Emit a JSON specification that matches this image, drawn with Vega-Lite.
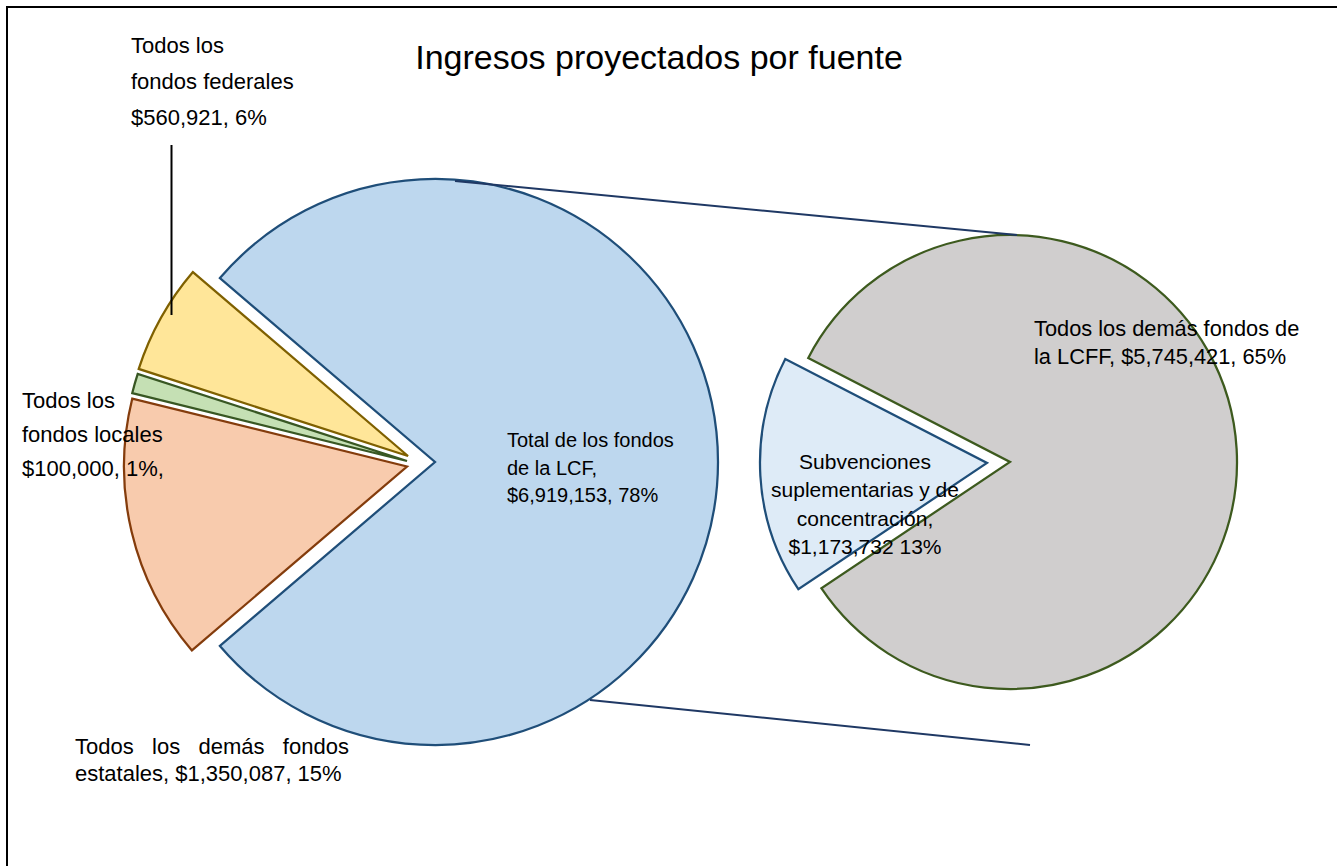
{
  "$schema": "https://vega.github.io/schema/vega-lite/v6.json",
  "width": 1332,
  "height": 861,
  "autosize": {"type": "none"},
  "padding": {"left": 7, "top": 7, "right": 0, "bottom": 0},
  "background": "white",
  "config": {"view": {"stroke": "black", "strokeWidth": 2}, "font": "Liberation Sans"},
  "title": {"text": "Ingresos proyectados por fuente", "fontSize": 34, "font": "Liberation Sans", "fontWeight": "normal", "color": "black", "anchor": "middle", "offset": -69, "dx": -14},
  "data": {"values": [
    {"grafico": "Fuente", "fuente": "Total de los fondos de la LCF", "monto": 6919153, "orden": 1, "etiqueta": "Total de los fondos\nde la LCF,\n$6,919,153, 78%"},
    {"grafico": "Fuente", "fuente": "Todos los demás fondos estatales", "monto": 1350087, "orden": 2, "etiqueta": "Todos\u00a0\u00a0\u00a0los\u00a0\u00a0\u00a0demás\u00a0\u00a0\u00a0fondos\nestatales, $1,350,087, 15%"},
    {"grafico": "Fuente", "fuente": "Todos los fondos locales", "monto": 100000, "orden": 3, "etiqueta": "Todos los\nfondos locales\n$100,000, 1%,"},
    {"grafico": "Fuente", "fuente": "Todos los fondos federales", "monto": 560921, "orden": 4, "etiqueta": "Todos los\nfondos federales\n$560,921, 6%"},
    {"grafico": "LCF", "fuente": "Todos los demás fondos de la LCFF", "monto": 5745421, "orden": 1, "etiqueta": "Todos los demás fondos de\nla LCFF, $5,745,421, 65%"},
    {"grafico": "LCF", "fuente": "Subvenciones suplementarias y de concentración", "monto": 1173732, "orden": 2, "etiqueta": "Subvenciones\nsuplementarias y de\nconcentración,\n$1,173,732 13%"}
  ]},
  "transform": [
    {"stack": "monto", "groupby": ["grafico"], "sort": [{"field": "orden", "order": "ascending"}], "offset": "normalize", "as": ["inicio", "fin"]}
  ],
  "encoding": {
    "x": {"field": "grafico", "type": "nominal", "axis": null, "scale": {"type": "point", "domain": ["Fuente", "LCF"], "range": [428, 1003], "padding": 0}},
    "y": {"field": "grafico", "type": "nominal", "axis": null, "scale": {"type": "point", "domain": ["Fuente", "LCF"], "range": [455, 455], "padding": 0}}
  },
  "resolve": {"scale": {"theta": "independent"}},
  "layer": [
    {
      "transform": [{"filter": "datum.grafico === 'Fuente'"}],
      "encoding": {
        "theta": {"field": "inicio", "type": "quantitative", "stack": null, "scale": {"domain": [0, 1], "range": [-0.86333, 5.41985]}},
        "theta2": {"field": "fin"},
        "fill": {"field": "fuente", "type": "nominal", "legend": null, "scale": {"domain": ["Total de los fondos de la LCF", "Todos los demás fondos estatales", "Todos los fondos locales", "Todos los fondos federales", "Todos los demás fondos de la LCFF", "Subvenciones suplementarias y de concentración"], "range": ["#BDD7EE", "#F8CBAD", "#C5E0B4", "#FFE699", "#D0CECE", "#DEEBF7"]}},
        "stroke": {"field": "fuente", "type": "nominal", "legend": null, "scale": {"domain": ["Total de los fondos de la LCF", "Todos los demás fondos estatales", "Todos los fondos locales", "Todos los fondos federales", "Todos los demás fondos de la LCFF", "Subvenciones suplementarias y de concentración"], "range": ["#1F4E79", "#843C0C", "#385723", "#7F6000", "#3D5A1E", "#1F4E79"]}}
      },
      "layer": [
        {"transform": [{"filter": "datum.orden === 1"}], "mark": {"type": "arc", "radius": 283, "strokeWidth": 2.25, "strokeJoin": "miter"}},
        {"transform": [{"filter": "datum.orden === 2"}], "mark": {"type": "arc", "radius": 283, "strokeWidth": 2.25, "strokeJoin": "miter", "xOffset": -28, "yOffset": 4.5}},
        {"transform": [{"filter": "datum.orden === 3"}], "mark": {"type": "arc", "radius": 283, "strokeWidth": 2.25, "strokeJoin": "miter", "xOffset": -28, "yOffset": -1}},
        {"transform": [{"filter": "datum.orden === 4"}], "mark": {"type": "arc", "radius": 283, "strokeWidth": 2.25, "strokeJoin": "miter", "xOffset": -27, "yOffset": -6}}
      ]
    },
    {
      "transform": [{"filter": "datum.grafico === 'LCF'"}],
      "encoding": {
        "theta": {"field": "inicio", "type": "quantitative", "stack": null, "scale": {"domain": [0, 1], "range": [-1.09461, 5.18858]}},
        "theta2": {"field": "fin"},
        "fill": {"field": "fuente", "type": "nominal", "legend": null},
        "stroke": {"field": "fuente", "type": "nominal", "legend": null}
      },
      "layer": [
        {"transform": [{"filter": "datum.orden === 1"}], "mark": {"type": "arc", "radius": 227, "strokeWidth": 2.25, "strokeJoin": "miter"}},
        {"transform": [{"filter": "datum.orden === 2"}], "mark": {"type": "arc", "radius": 227, "strokeWidth": 2.25, "strokeJoin": "miter", "xOffset": -23, "yOffset": 1}}
      ]
    },
    {
      "transform": [{"filter": "datum.grafico === 'Fuente' && datum.orden === 1"}],
      "mark": {"type": "rule", "color": "#1F3864", "strokeWidth": 2, "xOffset": 20, "x2Offset": 7, "yOffset": -281, "y2Offset": -227},
      "encoding": {"x": {"datum": "Fuente", "type": "nominal"}, "x2": {"datum": "LCF"}, "y": {"datum": "Fuente", "type": "nominal"}, "y2": {"datum": "LCF"}}
    },
    {
      "transform": [{"filter": "datum.grafico === 'Fuente' && datum.orden === 1"}],
      "mark": {"type": "rule", "color": "#1F3864", "strokeWidth": 2, "xOffset": 155, "x2Offset": 20, "yOffset": 238, "y2Offset": 283},
      "encoding": {"x": {"datum": "Fuente", "type": "nominal"}, "x2": {"datum": "LCF"}, "y": {"datum": "Fuente", "type": "nominal"}, "y2": {"datum": "LCF"}}
    },
    {
      "transform": [{"filter": "datum.grafico === 'Fuente' && datum.orden === 4"}],
      "mark": {"type": "rule", "color": "black", "strokeWidth": 2, "xOffset": -263.5, "yOffset": -317, "y2Offset": -147},
      "encoding": {"y2": {"datum": "Fuente"}}
    },
    {
      "transform": [{"filter": "datum.grafico === 'Fuente' && datum.orden === 4"}],
      "mark": {"type": "text", "align": "left", "baseline": "alphabetic", "fontSize": 22, "lineHeight": 36, "lineBreak": "\n", "font": "Liberation Sans", "color": "black", "dx": -304, "dy": -409},
      "encoding": {"text": {"field": "etiqueta", "type": "nominal"}}
    },
    {
      "transform": [{"filter": "datum.grafico === 'Fuente' && datum.orden === 3"}],
      "mark": {"type": "text", "align": "left", "baseline": "alphabetic", "fontSize": 22, "lineHeight": 34, "lineBreak": "\n", "font": "Liberation Sans", "color": "black", "dx": -413, "dy": -54},
      "encoding": {"text": {"field": "etiqueta", "type": "nominal"}}
    },
    {
      "transform": [{"filter": "datum.grafico === 'Fuente' && datum.orden === 2"}],
      "mark": {"type": "text", "align": "left", "baseline": "alphabetic", "fontSize": 22, "lineHeight": 27, "lineBreak": "\n", "font": "Liberation Sans", "color": "black", "dx": -360, "dy": 292},
      "encoding": {"text": {"field": "etiqueta", "type": "nominal"}}
    },
    {
      "transform": [{"filter": "datum.grafico === 'Fuente' && datum.orden === 1"}],
      "mark": {"type": "text", "align": "left", "baseline": "alphabetic", "fontSize": 20, "lineHeight": 27.5, "lineBreak": "\n", "font": "Liberation Sans", "color": "black", "dx": 72, "dy": -15},
      "encoding": {"text": {"field": "etiqueta", "type": "nominal"}}
    },
    {
      "transform": [{"filter": "datum.grafico === 'LCF' && datum.orden === 1"}],
      "mark": {"type": "text", "align": "left", "baseline": "alphabetic", "fontSize": 21.8, "lineHeight": 28, "lineBreak": "\n", "font": "Liberation Sans", "color": "black", "dx": 24, "dy": -126},
      "encoding": {"text": {"field": "etiqueta", "type": "nominal"}}
    },
    {
      "transform": [{"filter": "datum.grafico === 'LCF' && datum.orden === 2"}],
      "mark": {"type": "text", "align": "center", "baseline": "alphabetic", "fontSize": 21, "lineHeight": 28.3, "lineBreak": "\n", "font": "Liberation Sans", "color": "black", "dx": -145, "dy": 7},
      "encoding": {"text": {"field": "etiqueta", "type": "nominal"}}
    }
  ]
}
